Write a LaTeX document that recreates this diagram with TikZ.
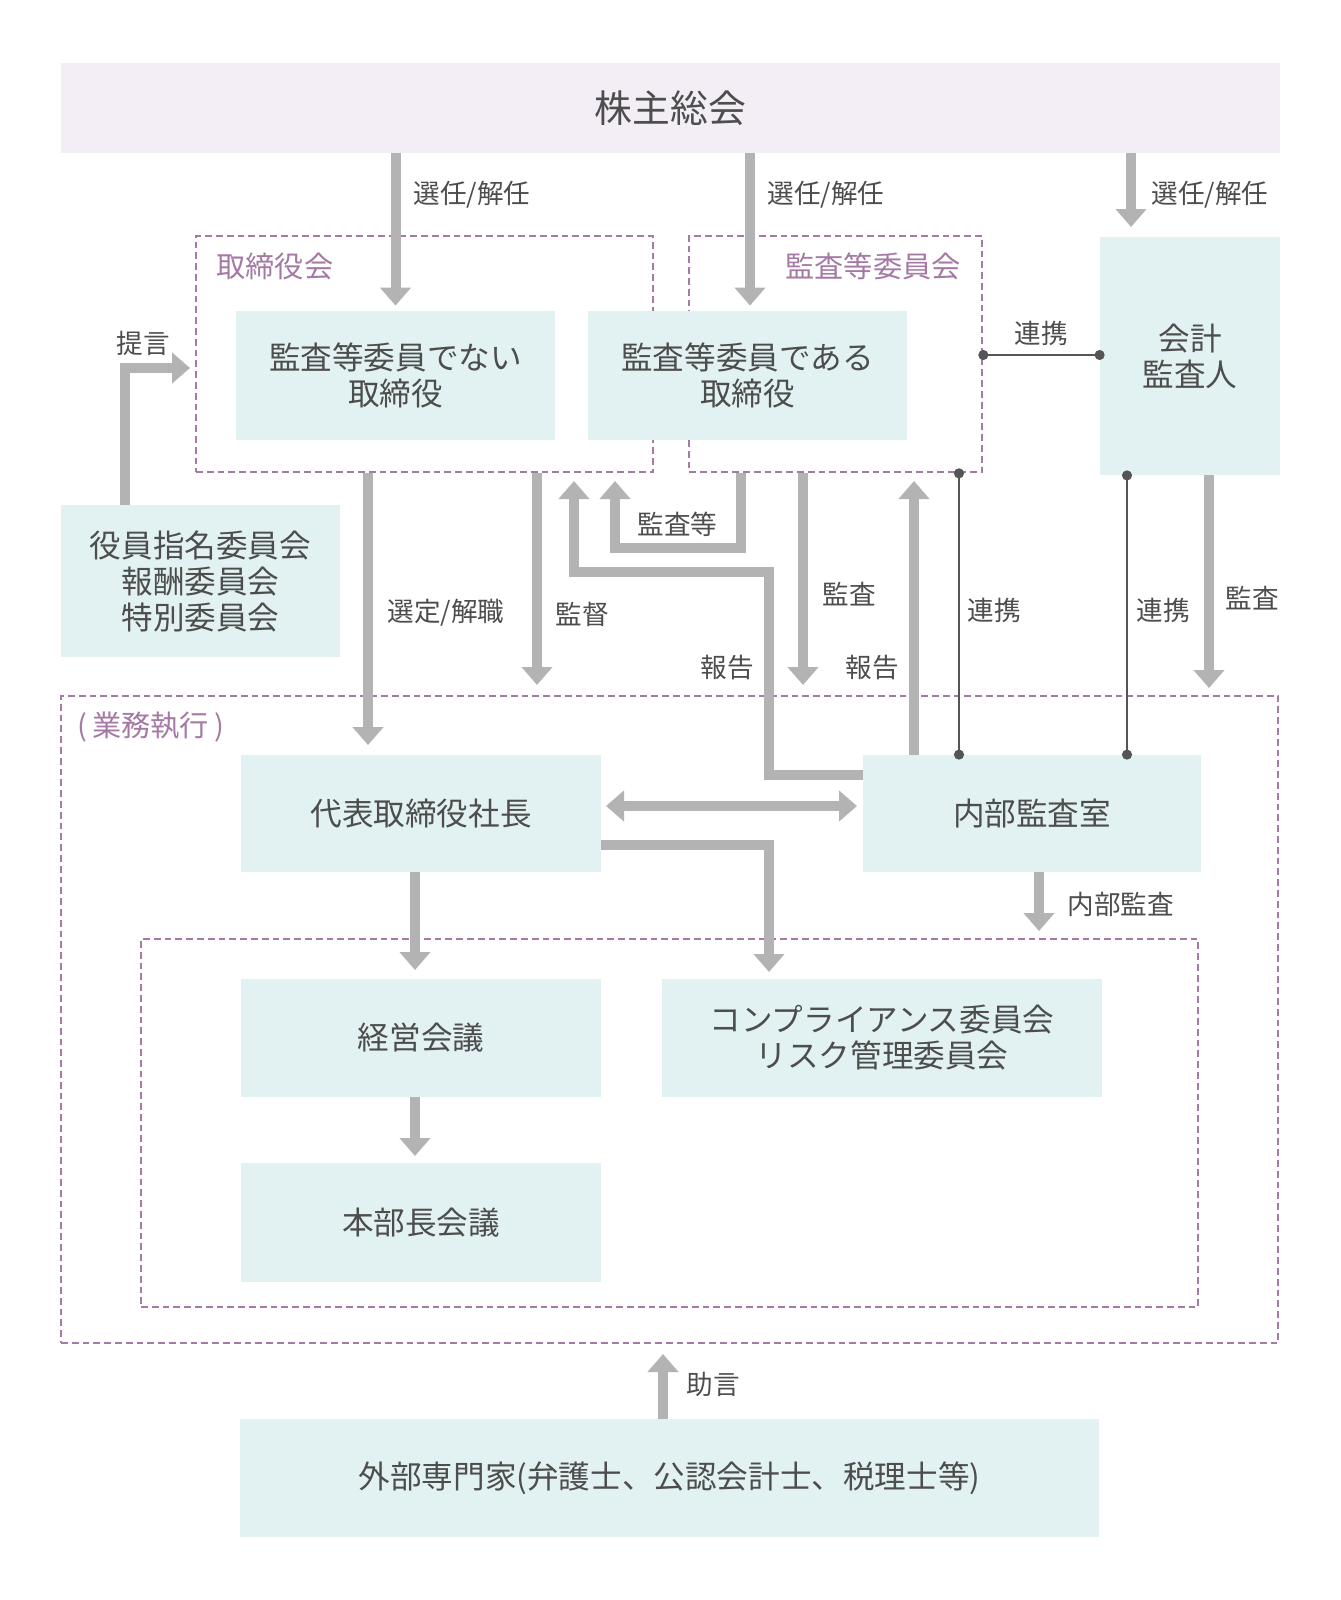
\documentclass[tikz,border=0pt]{standalone}
\usepackage{fontspec}
\setmainfont{Noto Sans CJK JP}
\usetikzlibrary{arrows.meta,fit}
\definecolor{boxfill}{HTML}{E2F2F2}
\definecolor{titlefill}{HTML}{F3EDF5}
\definecolor{agray}{HTML}{B3B3B3}
\definecolor{txt}{HTML}{4D4D4D}
\definecolor{dpurple}{HTML}{A57BA5}
\definecolor{ptext}{HTML}{A47AA5}
\definecolor{lgray}{HTML}{555555}
\begin{document}
\begin{tikzpicture}[x=0.5pt,y=-0.5pt,
  tbox/.style={fill=boxfill, inner sep=0pt, text=txt, align=center, font=\fontsize{15.8pt}{18pt}\selectfont},
  dbox/.style={draw=dpurple, line width=1.35pt, dash pattern=on 3.4pt off 2pt, inner sep=0pt},
  alabel/.style={text=txt, inner sep=0pt, font=\fontsize{13.3pt}{16pt}\selectfont},
  plabel/.style={text=ptext, inner sep=0pt, font=\fontsize{14.6pt}{17pt}\selectfont},
  garrow/.style={draw=agray, line width=5pt, line join=miter, -{Triangle[width=15pt,length=9pt]}},
  gdouble/.style={draw=agray, line width=5pt, {Triangle[width=15pt,length=9pt]}-{Triangle[width=15pt,length=9pt]}},
  linkline/.style={draw=lgray, line width=1pt, {Circle[length=5pt]}-{Circle[length=5pt]}, shorten <=-2.5pt, shorten >=-2.5pt},
]
\useasboundingbox (0,0) rectangle (1340,1600);

% dashed group frames
\node[dbox, fit={(196,236) (653,472)}] (bd) {};
\node[dbox, fit={(689,236) (982,472)}] (ac) {};
\node[dbox, fit={(61,696) (1278,1343)}] (ex) {};
\node[dbox, fit={(141,939) (1198,1307)}] (inr) {};

% boxes
\node[fill=titlefill, inner sep=0pt, text=txt, font=\fontsize{18.9pt}{22pt}\selectfont, minimum width=609.5pt, minimum height=45pt] (gm) at (670.5,108) {株主総会};
\node[tbox, minimum width=159.5pt, minimum height=64.5pt] (nd) at (395.5,375.5) {監査等委員でない\\取締役};
\node[tbox, minimum width=159.5pt, minimum height=64.5pt] (ad) at (747.5,375.5) {監査等委員である\\取締役};
\node[tbox, minimum width=90pt, minimum height=119pt] (ka) at (1190,356) {会計\\監査人};
\node[tbox, minimum width=139.5pt, minimum height=76pt] (nm) at (200.5,581) {役員指名委員会\\報酬委員会\\特別委員会};
\node[tbox, minimum width=180pt, minimum height=58.5pt] (pr) at (421,813.5) {代表取締役社長};
\node[tbox, minimum width=169pt, minimum height=58.5pt] (ia) at (1032,813.5) {内部監査室};
\node[tbox, minimum width=180pt, minimum height=59pt] (km) at (421,1038) {経営会議};
\node[tbox, minimum width=220pt, minimum height=59pt] (cr) at (882,1038) {コンプライアンス委員会\\リスク管理委員会};
\node[tbox, minimum width=180pt, minimum height=59.5pt] (hb) at (421,1222.5) {本部長会議};
\node[tbox, minimum width=429.5pt, minimum height=59pt] (ge) at (669.5,1478) {外部専門家(弁護士、公認会計士、税理士等)};

% group labels
\node[plabel, anchor=west] (bdl) at (216,266) {取締役会};
\node[plabel, anchor=east] (acl) at (961,266) {監査等委員会};
\node[plabel, anchor=west] (exl) at (77,727) {(\kern2.5pt業務執行\kern2.5pt)};

% free-end coordinates
\coordinate (k1) at (1131,227);
\coordinate (tA) at (125,368);
\coordinate (tB) at (190,368);
\coordinate (s1) at (368,745);
\coordinate (m1) at (537,685);
\coordinate (a1) at (741,548);
\coordinate (a2) at (615,548);
\coordinate (a3) at (615,481);
\coordinate (r1) at (769,775);
\coordinate (r2) at (769,572);
\coordinate (r3) at (574,572);
\coordinate (r4) at (574,481);
\coordinate (au) at (803,685);
\coordinate (rr) at (914,481);
\coordinate (c1) at (1040,355);
\coordinate (v1) at (959,600);
\coordinate (v2) at (1127,600);
\coordinate (ka2) at (1209,688);
\coordinate (d1) at (606,806);
\coordinate (d2) at (857,806);
\coordinate (e1) at (769,845);
\coordinate (e2) at (769,972);
\coordinate (p1) at (415,970);
\coordinate (i1) at (1039,931);
\coordinate (h1) at (415,1156);
\coordinate (j1) at (663,1354);

% arrows from general meeting
\draw[garrow] (gm.south -| nd.north) -- ([yshift=2.5pt]nd.north);
\draw[garrow] ([xshift=1.25pt]gm.south -| ad.north) -- ([xshift=1.25pt,yshift=2.5pt]ad.north);
\draw[garrow] (gm.south -| k1) -- (k1);
\node[alabel, anchor=west] (l1) at (413,195) {選任/解任};
\node[alabel, anchor=west] (l2) at (767,195) {選任/解任};
\node[alabel, anchor=west] (l3) at (1151,195) {選任/解任};

% proposal
\draw[garrow] (nm.north -| tA) -- (tA) -- (tB);
\node[alabel] (l4) at (143,343) {提言};

% board downward arrows
\draw[garrow] (bd.south -| s1) -- (s1);
\node[alabel, anchor=west] (l5) at (387,613) {選定/解職};
\draw[garrow] (bd.south -| m1) -- (m1);
\node[alabel, anchor=west] (l6) at (555,614) {監督};

% audit etc.
\draw[garrow] (ac.south -| a1) -- (a1) -- (a2) -- (a3);
\node[alabel, anchor=west] (l7) at (637,524) {監査等};

% report (left)
\draw[garrow] (ia.west |- r1) -- (r1) -- (r2) -- (r3) -- (r4);
\node[alabel, anchor=west] (l8) at (700,668) {報告};

% audit
\draw[garrow] (ac.south -| au) -- (au);
\node[alabel, anchor=west] (l9) at (822,594) {監査};

% report (right)
\draw[garrow] (ia.north -| rr) -- (rr);
\node[alabel, anchor=west] (l10) at (845,668) {報告};

% cooperation links
\draw[linkline] (ac.east |- c1) -- (ka.west |- c1);
\node[alabel] (l11) at (1041,333) {連携};
\draw[linkline] (ac.south -| v1) -- (ia.north -| v1);
\node[alabel, anchor=west] (l12) at (967,610) {連携};
\draw[linkline] (ka.south -| v2) -- (ia.north -| v2);
\node[alabel, anchor=west] (l13) at (1136,610) {連携};

% accounting auditor audit
\draw[garrow] (ka.south -| ka2) -- (ka2);
\node[alabel, anchor=west] (l14) at (1225,598) {監査};

% execution area
\draw[gdouble] (d1) -- (d2);
\draw[garrow] (pr.east |- e1) -- (e1) -- (e2);
\draw[garrow] (pr.south -| p1) -- (p1);
\draw[garrow] (ia.south -| i1) -- (i1);
\node[alabel, anchor=west] (l15) at (1067,904) {内部監査};
\draw[garrow] (km.south -| h1) -- (h1);

% advice
\draw[garrow] (ge.north -| j1) -- (j1);
\node[alabel, anchor=west] (l16) at (686,1384) {助言};
\end{tikzpicture}
\end{document}
